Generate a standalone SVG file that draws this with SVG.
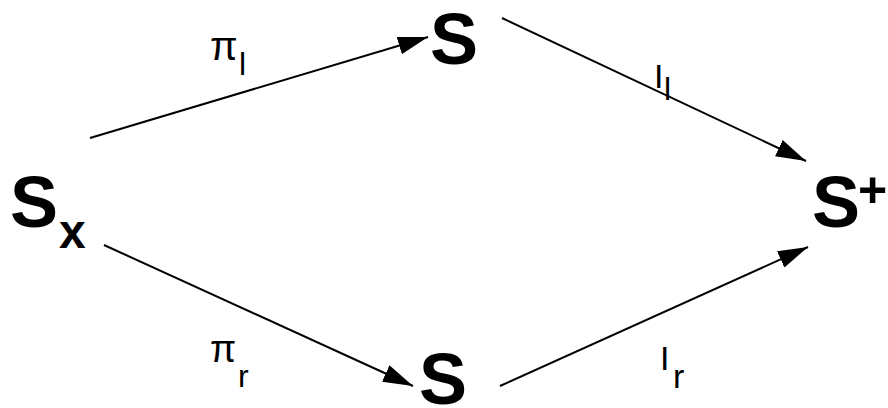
<svg xmlns="http://www.w3.org/2000/svg" width="888" height="408" viewBox="0 0 888 408">
<style>
.n{font-family:"Liberation Sans",Arial,sans-serif;font-weight:bold;fill:#000}
.l{font-family:"Liberation Sans",Arial,sans-serif;fill:#000}
.c{stroke:#000;stroke-width:2;fill:none;marker-end:url(#ah)}
</style>
<defs>
<marker id="ah" viewBox="0 0 30 18" refX="30" refY="9" markerWidth="30" markerHeight="18" markerUnits="userSpaceOnUse" orient="auto">
<path d="M0,0 L30,9 L0,18 z" fill="#000"/>
</marker>
</defs>
<rect width="888" height="408" fill="#fff"/>
<g id="connectors">
<line class="c" x1="90" y1="138" x2="428" y2="37"/>
<line class="c" x1="502" y1="18" x2="806" y2="161"/>
<line class="c" x1="104" y1="245" x2="413" y2="386"/>
<line class="c" x1="500" y1="386" x2="808" y2="247"/>
</g>
<g id="node-sx"><text class="n" x="10" y="227" font-size="72">S</text><text class="n" x="59" y="248" font-size="48">x</text></g>
<g id="node-s-top"><text class="n" x="430" y="64" font-size="72">S</text></g>
<g id="node-s-bottom"><text class="n" x="419" y="404" font-size="72">S</text></g>
<g id="node-splus"><text class="n" x="812" y="227" font-size="72">S</text><text class="n" x="858" y="207" font-size="50">+</text></g>
<g id="labels">
<text class="l" x="210" y="60" font-size="40">π</text><text class="l" x="239" y="75" font-size="32">l</text>
<text class="l" x="210" y="362" font-size="38">π</text><text class="l" x="238" y="387" font-size="32">r</text>
<text class="l" x="654" y="88" font-size="34">I</text><text class="l" x="664" y="100" font-size="32">l</text>
<text class="l" x="660" y="370" font-size="34">I</text><text class="l" x="673" y="388" font-size="34">r</text>
</g>
</svg>
